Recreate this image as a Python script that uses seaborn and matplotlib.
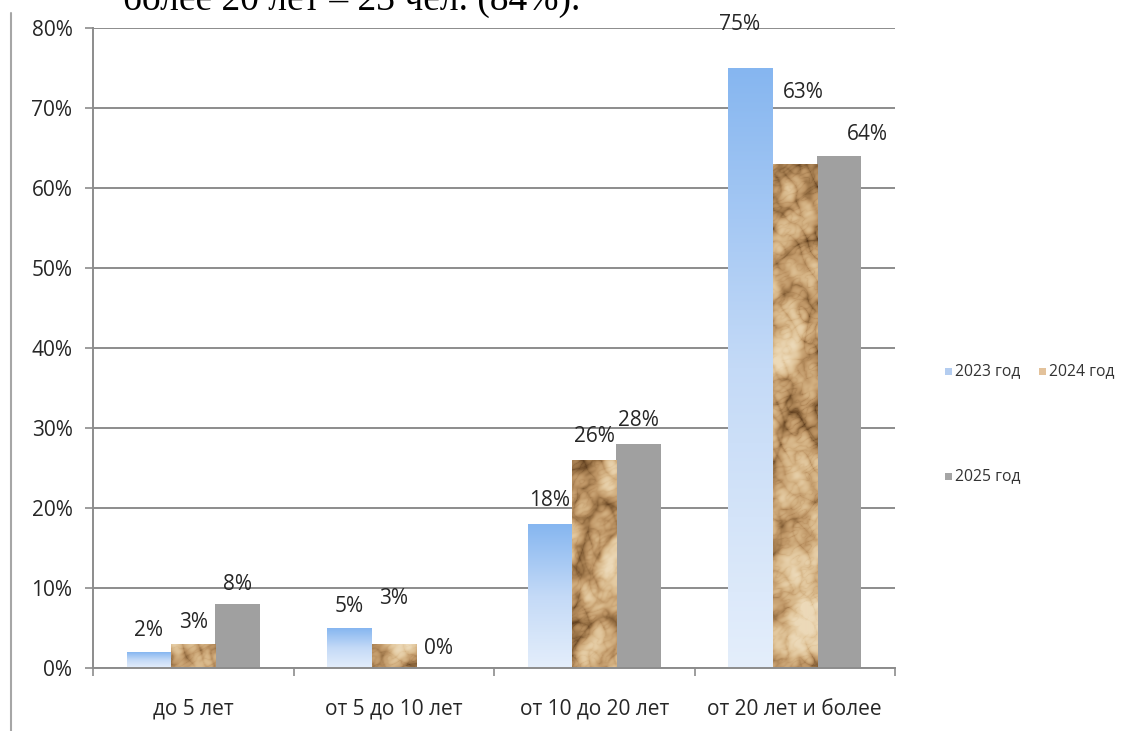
import numpy as np
import pandas as pd
import matplotlib
matplotlib.use("Agg")
import matplotlib.pyplot as plt
import seaborn as sns
from matplotlib.colors import LinearSegmentedColormap
from matplotlib.patches import Rectangle
from matplotlib.lines import Line2D

# ---- data ----
categories = ["до 5 лет", "от 5 до 10 лет", "от 10 до 20 лет", "от 20 лет и более"]
years = ["2023 год", "2024 год", "2025 год"]
values_2023 = [2, 5, 18, 75]
values_2024 = [3, 3, 26, 63]
values_2025 = [8, 0, 28, 64]
yticks = [0, 10, 20, 30, 40, 50, 60, 70, 80]
header_text = "более 20 лет – 23 чел. (84%)."

# label offsets in pixels (dx, dy) per year, per category (style only)
label_offsets = {
    "2023 год": [(0, 21), (0, 21), (0, 23), (-11, 43)],
    "2024 год": [(0, 21), (0, 46), (0, 23), (9, 71)],
    "2025 год": [(0, 19), (0, 20), (0, 24), (28, 21)],
}

df = pd.DataFrame({
    "cat": categories * 3,
    "year": [years[0]] * 4 + [years[1]] * 4 + [years[2]] * 4,
    "val": values_2023 + values_2024 + values_2025,
})

sns.set_theme(style="white")
plt.rcParams["font.family"] = ["Open Sans", "DejaVu Sans"]

W, H = 1121, 731
fig = plt.figure(figsize=(W / 100, H / 100), dpi=100)
ax_l, ax_r, ax_b, ax_t = 93, 895, 668, 28
ax = fig.add_axes([ax_l / W, 1 - ax_b / H, (ax_r - ax_l) / W, (ax_b - ax_t) / H])

sns.barplot(data=df, x="cat", y="val", hue="year", order=categories, hue_order=years,
            palette=["#9cc3f2", "#b8936a", "#a0a0a0"], width=0.664, saturation=1,
            linewidth=0, legend=False, ax=ax, zorder=3)

ax.set_xlim(-0.5, 3.5)
ax.set_ylim(0, 80)

# ---- textures ----
blue_cmap = LinearSegmentedColormap.from_list("b", ["#e4eefb", "#c4daf7", "#86b6f0"])
grad = np.linspace(1, 0, 256).reshape(-1, 1)

rng = np.random.default_rng(5)
th, tw = 640, 802
fy = np.fft.fftfreq(th)[:, None]
fx = np.fft.fftfreq(tw)[None, :]
def octave(scale, ang):
    n = rng.standard_normal((th, tw))
    c, s = np.cos(ang), np.sin(ang)
    u = fx * c + fy * s
    v = -fx * s + fy * c
    f = np.exp(-((u * 0.55) ** 2 + v ** 2) * (scale ** 2))
    o = np.real(np.fft.ifft2(np.fft.fft2(n) * f))
    return o / o.std()
crease = (np.abs(octave(70, 0.6)) ** 0.6 * 1.0 + np.abs(octave(30, -0.5)) ** 0.6 * 0.6
          + np.abs(octave(12, 1.0)) ** 0.6 * 0.3)
shade = octave(90, 0.3) * 0.25
tex = crease + shade
tex = (tex - tex.min()) / (tex.max() - tex.min())
tex = np.clip((tex - 0.05) / 0.8, 0, 1)
brown_cmap = LinearSegmentedColormap.from_list(
    "br", ["#3b260e", "#684624", "#977044", "#bd9464", "#d4b283", "#e3c9a0", "#ecd9b8"])

for yi, cont in enumerate(ax.containers):
    for bar in cont:
        x0 = bar.get_x()
        w = bar.get_width()
        h = bar.get_height()
        if h <= 0:
            continue
        if yi == 0:
            im = ax.imshow(grad, cmap=blue_cmap, extent=[x0, x0 + w, 0, h],
                           aspect="auto", zorder=3, interpolation="bilinear")
            im.set_clip_path(bar)
            bar.set_facecolor("none")
        elif yi == 1:
            im = ax.imshow(tex, cmap=brown_cmap, extent=[-0.5, 3.5, 0, 80],
                           aspect="auto", zorder=3, interpolation="bilinear")
            im.set_clip_path(bar)
            bar.set_facecolor("none")

ax.set_xlim(-0.5, 3.5)
ax.set_ylim(0, 80)

# ---- data labels ----
for yi, cont in enumerate(ax.containers):
    yname = years[yi]
    for ci, bar in enumerate(cont):
        v = df[(df.year == yname) & (df.cat == categories[ci])].val.iloc[0]
        dx, dy = label_offsets[yname][ci]
        ax.annotate(f"{v}%", (bar.get_x() + bar.get_width() / 2, bar.get_height()),
                    xytext=(dx, dy), textcoords="offset pixels", ha="center", va="center",
                    fontsize=15, color="#262626", zorder=5, annotation_clip=False)

# ---- axes styling ----
grid_c = "#8c8c8c"
ax.set_yticks(yticks)
ax.set_yticklabels([f"{t}%" for t in yticks])
ax.yaxis.grid(True, color=grid_c, linewidth=1.4, zorder=0)
ax.set_axisbelow(True)
for s in ["top", "right"]:
    ax.spines[s].set_visible(False)
for s in ["left", "bottom"]:
    ax.spines[s].set_color(grid_c)
    ax.spines[s].set_linewidth(1.4)
    ax.spines[s].set_zorder(4)
ax.tick_params(axis="y", which="major", left=True, length=5.8, width=1.2, color=grid_c,
               pad=9, labelsize=15, labelcolor="#262626")
ax.set_xticks(range(4))
ax.set_xticklabels(categories)
ax.set_xticks([-0.5, 0.5, 1.5, 2.5, 3.5], minor=True)
ax.tick_params(axis="x", which="major", bottom=True, length=0, pad=22, labelsize=15,
               labelcolor="#262626")
ax.tick_params(axis="x", which="minor", bottom=True, length=5.8, width=1.2, color=grid_c)
ax.set_xlabel("")
ax.set_ylabel("")

# ---- legend (manual) ----
leg = [("2023 год", "#b4cdf0", 945, 371), ("2024 год", "#e3c29b", 1039, 371),
       ("2025 год", "#a5a5a5", 945, 476)]
for name, col, px, py in leg:
    fig.patches.append(Rectangle(((px) / W, 1 - (py + 3.5) / H), 7 / W, 7 / H,
                                 transform=fig.transFigure, facecolor=col, edgecolor="none"))
    fig.text((px + 10) / W, 1 - py / H, name, fontsize=11.3, color="#333333",
             va="center", ha="left")

# ---- header text (cut off at top, as in the source page) and left rule ----
fig.text(123 / W, 1 - 10 / H, header_text, fontsize=27, family="Liberation Serif",
         color="black", va="baseline", ha="left")
fig.add_artist(Line2D([10.5 / W, 10.5 / W], [1 - 13 / H, 0], transform=fig.transFigure,
                      color="#a6a6a6", linewidth=1.5))

fig.savefig("out.png", dpi=100)
